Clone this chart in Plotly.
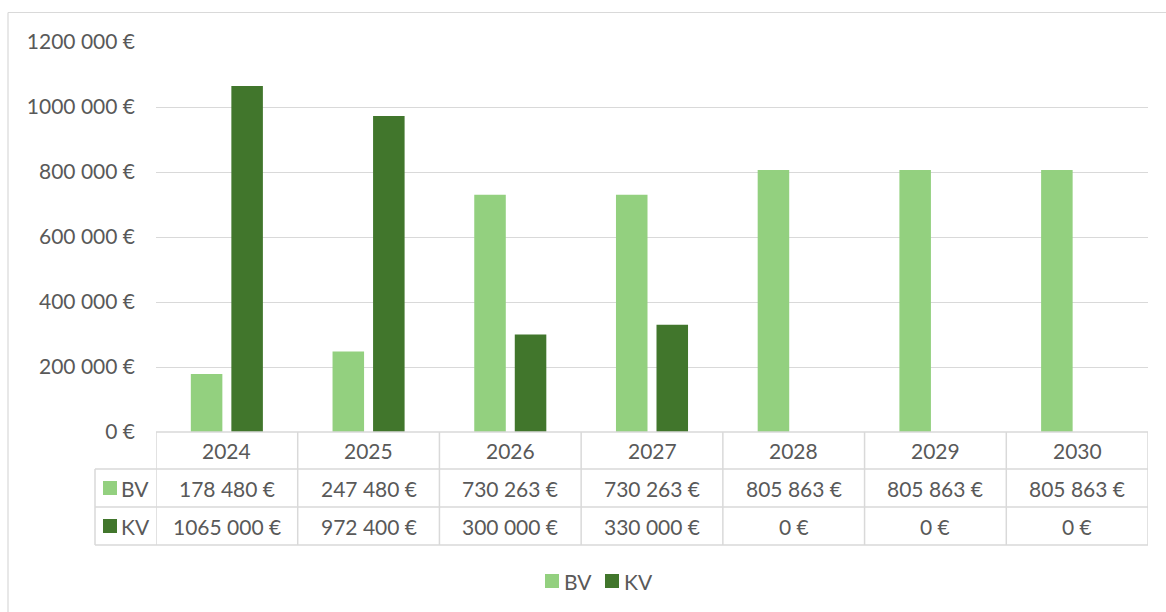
import plotly.graph_objects as go

years = ["2024", "2025", "2026", "2027", "2028", "2029", "2030"]
bv = [178480, 247480, 730263, 730263, 805863, 805863, 805863]
kv = [1065000, 972400, 300000, 330000, 0, 0, 0]
series_names = ["BV", "KV"]
tick_vals = [0, 200000, 400000, 600000, 800000, 1000000, 1200000]

C_BV = "#93D07F"
C_KV = "#41762C"
TXT = "#595959"
GRID = "#D9D9D9"
FONT = "Lato"
FS = 21

W, H = 1166, 612
L, R, T, B = 156, 1148, 42, 432


def eur(v):
    v = int(round(v))
    if v >= 1000:
        return f"{v // 1000} {v % 1000:03d} €"
    return f"{v} €"


def px(X):
    return (X - L) / (R - L)


def py(Y):
    return (B - Y) / (B - T)


colors = [C_BV, C_KV]
fig = go.Figure()
fig.add_trace(go.Bar(x=years, y=bv, name=series_names[0], marker=dict(color=C_BV, line=dict(width=0))))
fig.add_trace(go.Bar(x=years, y=kv, name=series_names[1], marker=dict(color=C_KV, line=dict(width=0))))

shapes = []
# outer chart border (top and left edges visible)
shapes.append(dict(type="line", xref="paper", yref="paper", x0=px(8), x1=px(1170), y0=py(12.5), y1=py(12.5),
                   line=dict(color=GRID, width=1.2), layer="below"))
shapes.append(dict(type="line", xref="paper", yref="paper", x0=px(8), x1=px(8), y0=py(12.5), y1=py(615),
                   line=dict(color=GRID, width=1.2), layer="below"))
# table horizontal lines
row_lines = [432, 469, 507, 545]
shapes.append(dict(type="line", xref="paper", yref="paper", x0=0, x1=1, y0=0, y1=0, line=dict(color=GRID, width=1.5)))
for Y in row_lines[1:]:
    shapes.append(dict(type="line", xref="paper", yref="paper", x0=px(95), x1=1, y0=py(Y), y1=py(Y),
                       line=dict(color=GRID, width=1.5)))
# table vertical lines at category boundaries
for i in range(len(years) + 1):
    shapes.append(dict(type="line", xref="x", yref="paper", x0=i - 0.5, x1=i - 0.5, y0=py(432), y1=py(545),
                       line=dict(color=GRID, width=1.5)))
shapes.append(dict(type="line", xref="paper", yref="paper", x0=px(95), x1=px(95), y0=py(469), y1=py(545),
                   line=dict(color=GRID, width=1.5)))
row_c = [450.5, 488, 526]
# legend keys in table
for Yc, col in ((row_c[1], C_BV), (row_c[2], C_KV)):
    shapes.append(dict(type="rect", xref="paper", yref="paper", x0=px(103), x1=px(117), y0=py(Yc + 7), y1=py(Yc - 7),
                       line=dict(width=0), fillcolor=col))
# bottom legend keys
for X0, col in ((545, C_BV), (605, C_KV)):
    shapes.append(dict(type="rect", xref="paper", yref="paper", x0=px(X0), x1=px(X0 + 14), y0=py(588), y1=py(574),
                       line=dict(width=0), fillcolor=col))

ann = []
tf = dict(family=FONT, size=FS, color=TXT)
for i, yr in enumerate(years):
    ann.append(dict(x=i, xref="x", y=py(row_c[0]), yref="paper", text=yr, showarrow=False,
                    xanchor="center", yanchor="middle", font=tf))
    ann.append(dict(x=i, xref="x", y=py(row_c[1]), yref="paper", text=eur(bv[i]), showarrow=False,
                    xanchor="center", yanchor="middle", font=tf))
    ann.append(dict(x=i, xref="x", y=py(row_c[2]), yref="paper", text=eur(kv[i]), showarrow=False,
                    xanchor="center", yanchor="middle", font=tf))
for Yc, nm in ((row_c[1], series_names[0]), (row_c[2], series_names[1])):
    ann.append(dict(x=px(119), xref="paper", y=py(Yc), yref="paper", text=nm, showarrow=False,
                    xanchor="left", yanchor="middle", font=tf))
for X0, nm in ((562, series_names[0]), (622, series_names[1])):
    ann.append(dict(x=px(X0), xref="paper", y=py(581), yref="paper", text=nm, showarrow=False,
                    xanchor="left", yanchor="middle", font=tf))

fig.update_layout(
    width=W, height=H,
    margin=dict(l=L, r=W - R, t=T, b=H - B),
    paper_bgcolor="white", plot_bgcolor="white",
    barmode="group", bargap=0.428, bargroupgap=0.222,
    font=dict(family=FONT, size=FS, color=TXT),
    xaxis=dict(type="category", range=[-0.5, 6.5], showticklabels=False, showgrid=False, showline=False,
               zeroline=False, ticks=""),
    yaxis=dict(range=[0, 1200000], tickvals=tick_vals, ticktext=[eur(v) for v in tick_vals],
               showgrid=True, gridcolor=GRID, gridwidth=1, zeroline=False, showline=False,
               ticklabelstandoff=20, tickfont=tf),
    shapes=shapes, annotations=ann, showlegend=False,
)

fig.write_html("out.html", config={"displayModeBar": False},
               post_script="document.body.style.margin='0';document.body.style.padding='0';")
